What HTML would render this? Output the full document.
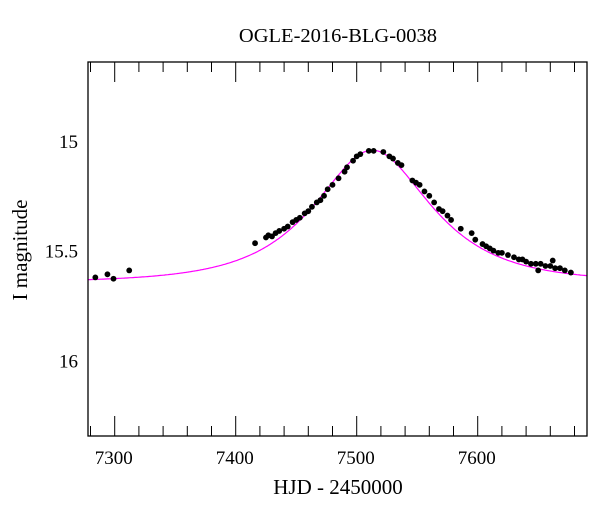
<!DOCTYPE html>
<html><head><meta charset="utf-8"><style>
html,body{margin:0;padding:0;background:#fff}
svg text{font-family:"Liberation Serif",serif;fill:#000}
</style></head><body>
<svg id="chart" width="600" height="512" xmlns="http://www.w3.org/2000/svg">
<text x="338" y="42" font-size="20.5" text-anchor="middle">OGLE-2016-BLG-0038</text>
<text x="338" y="494" font-size="21" text-anchor="middle">HJD - 2450000</text>
<text transform="translate(27,250) rotate(-90)" font-size="21" text-anchor="middle">I magnitude</text>
<g id="ticks"></g>
<g id="model"></g>
<g id="pts"></g>
<rect x="88" y="62" width="499" height="374" fill="none" stroke="#000" stroke-width="1.3"/>
</svg>
<script>
const obsTime=[7284,7294,7299,7312,7416,7425,7427,7430,7433,7436,7440,7443,7447,7450,7453,7457,7460,7463,7467,7470,7473,7476,7480,7485,7490,7492,7497,7500,7503,7510,7514,7522,7527,7530,7534,7537,7546,7549,7552,7556,7560,7564,7568,7571,7575,7578,7586,7595,7598,7604,7607,7610,7613,7617,7620,7625,7630,7634,7637,7640,7644,7648,7650,7652,7656,7660,7662,7664,7668,7672,7677];
const obsMag=[15.622,15.608,15.628,15.59,15.466,15.44,15.43,15.435,15.42,15.41,15.40,15.39,15.37,15.36,15.35,15.33,15.32,15.30,15.28,15.27,15.25,15.22,15.20,15.17,15.14,15.12,15.09,15.07,15.06,15.045,15.045,15.05,15.07,15.08,15.10,15.11,15.18,15.19,15.20,15.23,15.25,15.28,15.31,15.32,15.34,15.36,15.40,15.42,15.45,15.47,15.48,15.49,15.50,15.51,15.51,15.52,15.53,15.54,15.54,15.55,15.56,15.56,15.59,15.56,15.57,15.57,15.545,15.58,15.58,15.59,15.60];
const modelParams=[7513,0.665,72,15.645]; // t0,u0,tE,Ibase
const xTicks=[7300,7400,7500,7600];
const yTicks=[15,15.5,16];
const L=88,R=587,T=62,B=436;
const X=t=>114.7+(t-7300)*1.21;
const Y=m=>141+(m-15)*219.3;
const NS='http://www.w3.org/2000/svg';
function mk(tag,attrs,parent){const e=document.createElementNS(NS,tag);for(const k in attrs)e.setAttribute(k,attrs[k]);parent.appendChild(e);return e;}
const tk=document.getElementById('ticks');
for(let t=7280;t<=7690;t+=20){const x=X(t);if(x<L||x>R)continue;const maj=t%100===0;const len=maj?20:10;
 const a=mk('line',{x1:x,x2:x,y1:B,y2:B-len,stroke:'#000','stroke-width':1},tk);
 
 
 const b=mk('line',{x1:x,x2:x,y1:T,y2:T+len,stroke:'#000','stroke-width':1},tk);
 
 }
xTicks.forEach(t=>{const e=mk('text',{x:X(t)-1,y:464,'font-size':19,'text-anchor':'middle'},tk);e.textContent=t;
 
 });
for(let i=7;i<=33;i++){const m=i/10;const y=Y(m);if(y<T||y>B)continue;const maj=i%5===0;const len=maj?19:9;
 const a=mk('line',{x1:L,x2:L+len,y1:y,y2:y,stroke:'#000','stroke-width':1},tk);
 
 
 const b=mk('line',{x1:R,x2:R-len,y1:y,y2:y,stroke:'#000','stroke-width':1},tk);
 
 }
yTicks.forEach(m=>{const e=mk('text',{x:78,y:Y(m)+7,'font-size':19,'text-anchor':'end'},tk);e.textContent=m;
 
 });
const [t0,u0,tE,Ib]=modelParams;
let d='';for(let t=7278;t<=7690;t+=1){const tau=(t-t0)/tE;const u=Math.sqrt(u0*u0+tau*tau);const A=(u*u+2)/(u*Math.sqrt(u*u+4));const m=Ib-2.5*Math.log10(A);d+=(d?'L':'M')+X(t).toFixed(1)+','+Y(m).toFixed(1);}
const p=mk('path',{d:d,fill:'none',stroke:'#ff00ff','stroke-width':1.2},document.getElementById('model'));


const pg=document.getElementById('pts');
obsTime.forEach((t,i)=>{const c=mk('circle',{cx:X(t),cy:Y(obsMag[i]),r:2.9,fill:'#000'},pg);
 
 });
</script>
</body></html>
